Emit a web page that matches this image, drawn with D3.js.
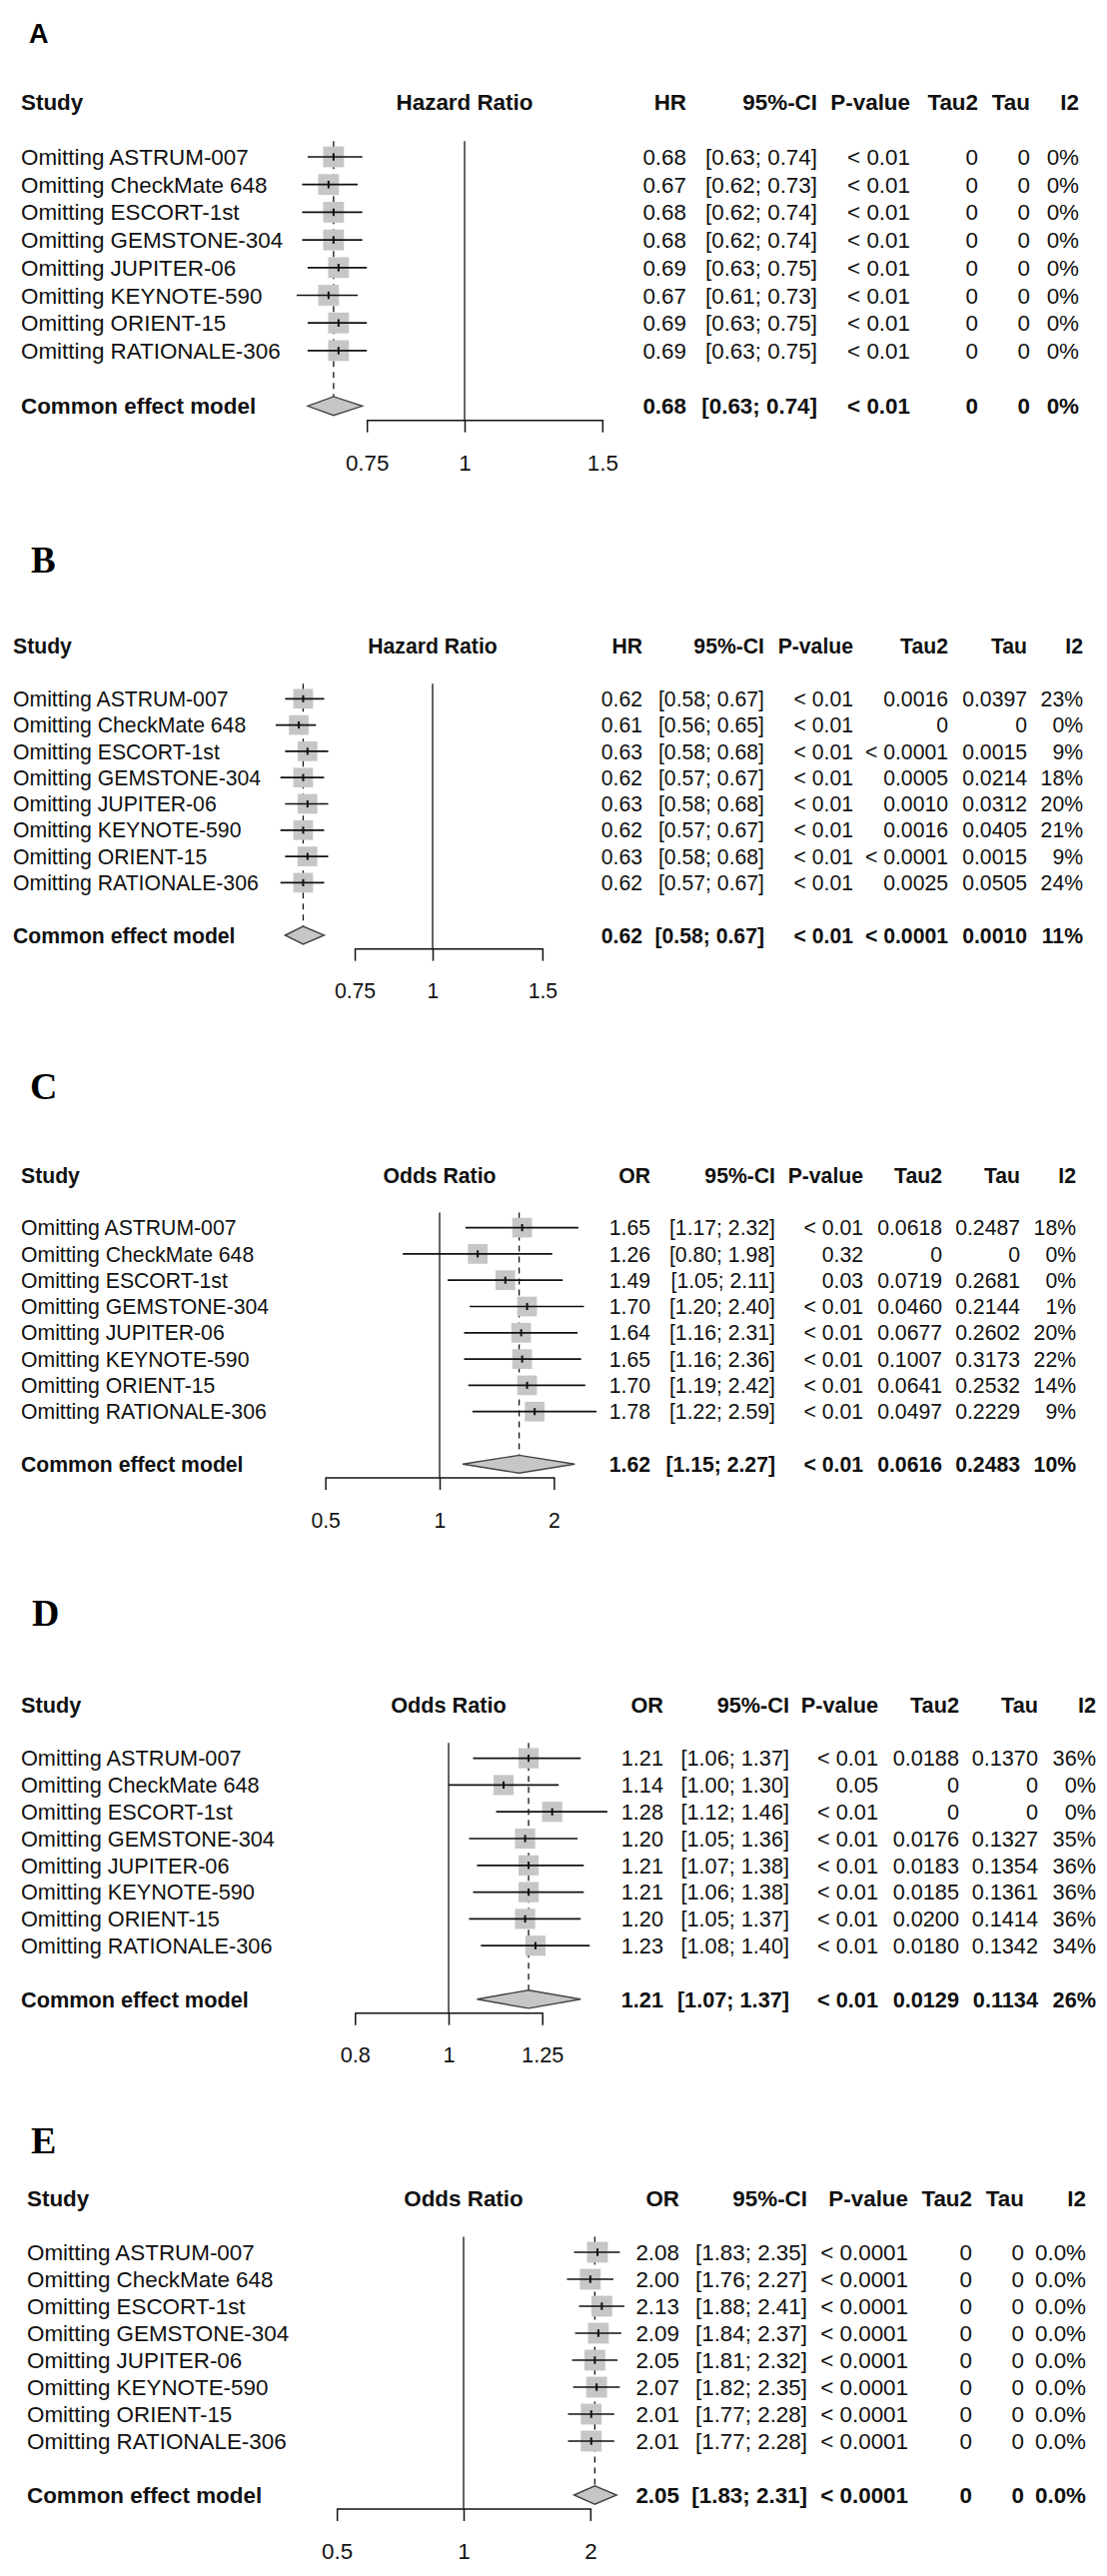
<html lang="en">

<head>
    <meta charset="utf-8">
    <title>Leave-one-out forest plots</title>
    <style>
        body {
            margin: 0;
            background: white;
        }

        svg {
            display: block;
        }

        text {
            font-family: "Liberation Sans", Arial, sans-serif;
            fill: #111;
        }
    </style>
</head>

<body>
    <script src="https://d3js.org/d3.v7.min.js"></script>

    <div id="chart"></div>

    <script type="text/javascript">
        // Studies (same order in every panel)
        var studies = ["Omitting ASTRUM-007", "Omitting CheckMate 648", "Omitting ESCORT-1st",
            "Omitting GEMSTONE-304", "Omitting JUPITER-06", "Omitting KEYNOTE-590",
            "Omitting ORIENT-15", "Omitting RATIONALE-306"];

        // A - hazard ratio
        var estA = [0.68, 0.67, 0.68, 0.68, 0.69, 0.67, 0.69, 0.69];
        var lowA = [0.63, 0.62, 0.62, 0.62, 0.63, 0.61, 0.63, 0.63];
        var upA = [0.74, 0.73, 0.74, 0.74, 0.75, 0.73, 0.75, 0.75];
        var pA = ["< 0.01", "< 0.01", "< 0.01", "< 0.01", "< 0.01", "< 0.01", "< 0.01", "< 0.01"];
        var tau2A = ["0", "0", "0", "0", "0", "0", "0", "0"];
        var tauA = ["0", "0", "0", "0", "0", "0", "0", "0"];
        var i2A = ["0%", "0%", "0%", "0%", "0%", "0%", "0%", "0%"];
        var commonA = [0.68, 0.63, 0.74];
        var commonStatsA = ["< 0.01", "0", "0", "0%"];
        var ticksA = [0.75, 1, 1.5];

        // B - hazard ratio
        var estB = [0.62, 0.61, 0.63, 0.62, 0.63, 0.62, 0.63, 0.62];
        var lowB = [0.58, 0.56, 0.58, 0.57, 0.58, 0.57, 0.58, 0.57];
        var upB = [0.67, 0.65, 0.68, 0.67, 0.68, 0.67, 0.68, 0.67];
        var pB = ["< 0.01", "< 0.01", "< 0.01", "< 0.01", "< 0.01", "< 0.01", "< 0.01", "< 0.01"];
        var tau2B = ["0.0016", "0", "< 0.0001", "0.0005", "0.0010", "0.0016", "< 0.0001", "0.0025"];
        var tauB = ["0.0397", "0", "0.0015", "0.0214", "0.0312", "0.0405", "0.0015", "0.0505"];
        var i2B = ["23%", "0%", "9%", "18%", "20%", "21%", "9%", "24%"];
        var commonB = [0.62, 0.58, 0.67];
        var commonStatsB = ["< 0.01", "< 0.0001", "0.0010", "11%"];
        var ticksB = [0.75, 1, 1.5];

        // C - odds ratio
        var estC = [1.65, 1.26, 1.49, 1.70, 1.64, 1.65, 1.70, 1.78];
        var lowC = [1.17, 0.80, 1.05, 1.20, 1.16, 1.16, 1.19, 1.22];
        var upC = [2.32, 1.98, 2.11, 2.40, 2.31, 2.36, 2.42, 2.59];
        var pC = ["< 0.01", "0.32", "0.03", "< 0.01", "< 0.01", "< 0.01", "< 0.01", "< 0.01"];
        var tau2C = ["0.0618", "0", "0.0719", "0.0460", "0.0677", "0.1007", "0.0641", "0.0497"];
        var tauC = ["0.2487", "0", "0.2681", "0.2144", "0.2602", "0.3173", "0.2532", "0.2229"];
        var i2C = ["18%", "0%", "0%", "1%", "20%", "22%", "14%", "9%"];
        var commonC = [1.62, 1.15, 2.27];
        var commonStatsC = ["< 0.01", "0.0616", "0.2483", "10%"];
        var ticksC = [0.5, 1, 2];

        // D - odds ratio
        var estD = [1.21, 1.14, 1.28, 1.20, 1.21, 1.21, 1.20, 1.23];
        var lowD = [1.06, 1.00, 1.12, 1.05, 1.07, 1.06, 1.05, 1.08];
        var upD = [1.37, 1.30, 1.46, 1.36, 1.38, 1.38, 1.37, 1.40];
        var pD = ["< 0.01", "0.05", "< 0.01", "< 0.01", "< 0.01", "< 0.01", "< 0.01", "< 0.01"];
        var tau2D = ["0.0188", "0", "0", "0.0176", "0.0183", "0.0185", "0.0200", "0.0180"];
        var tauD = ["0.1370", "0", "0", "0.1327", "0.1354", "0.1361", "0.1414", "0.1342"];
        var i2D = ["36%", "0%", "0%", "35%", "36%", "36%", "36%", "34%"];
        var commonD = [1.21, 1.07, 1.37];
        var commonStatsD = ["< 0.01", "0.0129", "0.1134", "26%"];
        var ticksD = [0.8, 1, 1.25];

        // E - odds ratio
        var estE = [2.08, 2.00, 2.13, 2.09, 2.05, 2.07, 2.01, 2.01];
        var lowE = [1.83, 1.76, 1.88, 1.84, 1.81, 1.82, 1.77, 1.77];
        var upE = [2.35, 2.27, 2.41, 2.37, 2.32, 2.35, 2.28, 2.28];
        var pE = ["< 0.0001", "< 0.0001", "< 0.0001", "< 0.0001", "< 0.0001", "< 0.0001", "< 0.0001", "< 0.0001"];
        var tau2E = ["0", "0", "0", "0", "0", "0", "0", "0"];
        var tauE = ["0", "0", "0", "0", "0", "0", "0", "0"];
        var i2E = ["0.0%", "0.0%", "0.0%", "0.0%", "0.0%", "0.0%", "0.0%", "0.0%"];
        var commonE = [2.05, 1.83, 2.31];
        var commonStatsE = ["< 0.0001", "0", "0", "0.0%"];
        var ticksE = [0.5, 1, 2];

        // layout of each panel (pixel positions)
        var layoutA = { label: "A", serif: false, labelX: 29, labelY: 43, labelSize: 27, head: 101.6, sp: 27.7, fs: 22.4, studyX: 21, xOne: 465, k: 340, cols: [687, 818, 911, 979, 1031, 1080] };
        var layoutB = { label: "B", serif: true, labelX: 31, labelY: 573, labelSize: 37, head: 646.7, sp: 26.3, fs: 21.2, studyX: 13, xOne: 433, k: 271, cols: [643, 765, 854, 949, 1028, 1084] };
        var layoutC = { label: "C", serif: true, labelX: 30, labelY: 1100, labelSize: 38, head: 1176, sp: 26.3, fs: 21.2, studyX: 21, xOne: 440, k: 165, cols: [651, 776, 864, 943, 1021, 1077] };
        var layoutD = { label: "D", serif: true, labelX: 32, labelY: 1627, labelSize: 38, head: 1706, sp: 26.8, fs: 21.7, studyX: 21, xOne: 449, k: 420, cols: [664, 790, 879, 960, 1039, 1097] };
        var layoutE = { label: "E", serif: true, labelX: 31, labelY: 2155, labelSize: 38, head: 2200, sp: 27.0, fs: 22.4, studyX: 27, xOne: 464, k: 183, cols: [680, 808, 909, 973, 1025, 1087] };

        var panels = [
            { sm: "HR", title: "Hazard Ratio", est: estA, low: lowA, up: upA, p: pA, tau2: tau2A, tau: tauA, i2: i2A, common: commonA, commonStats: commonStatsA, ticks: ticksA, L: layoutA },
            { sm: "HR", title: "Hazard Ratio", est: estB, low: lowB, up: upB, p: pB, tau2: tau2B, tau: tauB, i2: i2B, common: commonB, commonStats: commonStatsB, ticks: ticksB, L: layoutB },
            { sm: "OR", title: "Odds Ratio", est: estC, low: lowC, up: upC, p: pC, tau2: tau2C, tau: tauC, i2: i2C, common: commonC, commonStats: commonStatsC, ticks: ticksC, L: layoutC },
            { sm: "OR", title: "Odds Ratio", est: estD, low: lowD, up: upD, p: pD, tau2: tau2D, tau: tauD, i2: i2D, common: commonD, commonStats: commonStatsD, ticks: ticksD, L: layoutD },
            { sm: "OR", title: "Odds Ratio", est: estE, low: lowE, up: upE, p: pE, tau2: tau2E, tau: tauE, i2: i2E, common: commonE, commonStats: commonStatsE, ticks: ticksE, L: layoutE }
        ];

        var width = 1108;
        var height = 2578;
        var f2 = d3.format(".2f");

        var svg = d3.select("#chart").append("svg")
            .attr("width", width)
            .attr("height", height);

        svg.append("rect")
            .attr("width", width)
            .attr("height", height)
            .attr("fill", "white");

        panels.forEach(draw_panel);

        function ci_text(lo, hi) {
            return "[" + f2(lo) + "; " + f2(hi) + "]";
        }

        function draw_panel(p) {
            var L = p.L;
            var g = svg.append("g");
            var n = studies.length;
            var t0 = p.ticks[0];
            var t1 = p.ticks[p.ticks.length - 1];

            var x = d3.scaleLog()
                .domain([t0, t1])
                .range([L.xOne + L.k * Math.log(t0), L.xOne + L.k * Math.log(t1)]);

            var rowY = function(i) {
                return L.head + (i + 2) * L.sp;
            };
            var yCommon = rowY(n + 1);
            var base = 0.36 * L.fs;
            var sq = 0.93 * L.fs;
            var top = rowY(0) - 0.57 * L.sp;
            var axisY = yCommon + 0.5 * L.sp;
            var dh = 0.34 * L.sp;

            // panel letter
            g.append("text")
                .text(L.label)
                .attr("x", L.labelX)
                .attr("y", L.labelY)
                .style("font-family", L.serif ? "'Liberation Serif', 'Times New Roman', serif" : "'Liberation Sans', Arial, sans-serif")
                .style("font-weight", "bold")
                .style("font-size", L.labelSize + "px")
                .style("fill", "#000");

            // header
            var heads = [p.sm, "95%-CI", "P-value", "Tau2", "Tau", "I2"];
            g.append("text")
                .text("Study")
                .attr("x", L.studyX)
                .attr("y", L.head + base)
                .style("font-weight", "bold")
                .style("font-size", L.fs + "px");
            g.append("text")
                .text(p.title)
                .attr("x", L.xOne)
                .attr("y", L.head + base)
                .attr("text-anchor", "middle")
                .style("font-weight", "bold")
                .style("font-size", L.fs + "px");
            g.selectAll(".colhead")
                .data(heads)
                .enter()
                .append("text")
                .text(function(d) { return d; })
                .attr("x", function(d, i) { return L.cols[i]; })
                .attr("y", L.head + base)
                .attr("text-anchor", "end")
                .style("font-weight", "bold")
                .style("font-size", L.fs + "px");

            // study labels
            g.selectAll(".study")
                .data(studies)
                .enter()
                .append("text")
                .text(function(d) { return d; })
                .attr("x", L.studyX)
                .attr("y", function(d, i) { return rowY(i) + base; })
                .style("font-size", L.fs + "px");

            g.append("text")
                .text("Common effect model")
                .attr("x", L.studyX)
                .attr("y", yCommon + base)
                .style("font-weight", "bold")
                .style("font-size", L.fs + "px");

            // table columns
            var rows = studies.map(function(s, i) {
                return [f2(p.est[i]), ci_text(p.low[i], p.up[i]), p.p[i], p.tau2[i], p.tau[i], p.i2[i]];
            });
            rows.forEach(function(r, i) {
                g.selectAll(".cell" + i)
                    .data(r)
                    .enter()
                    .append("text")
                    .text(function(d) { return d; })
                    .attr("x", function(d, j) { return L.cols[j]; })
                    .attr("y", rowY(i) + base)
                    .attr("text-anchor", "end")
                    .style("font-size", L.fs + "px");
            });
            var crow = [f2(p.common[0]), ci_text(p.common[1], p.common[2])].concat(p.commonStats);
            g.selectAll(".ccell")
                .data(crow)
                .enter()
                .append("text")
                .text(function(d) { return d; })
                .attr("x", function(d, j) { return L.cols[j]; })
                .attr("y", yCommon + base)
                .attr("text-anchor", "end")
                .style("font-weight", "bold")
                .style("font-size", L.fs + "px");

            // line of no effect
            g.append("line")
                .attr("x1", x(1))
                .attr("x2", x(1))
                .attr("y1", top)
                .attr("y2", axisY)
                .attr("stroke", "#111")
                .attr("stroke-width", 1.3);

            // pooled estimate (dashed), drawn under the squares
            g.append("line")
                .attr("x1", x(p.common[0]))
                .attr("x2", x(p.common[0]))
                .attr("y1", top)
                .attr("y2", yCommon - dh)
                .attr("stroke", "#111")
                .attr("stroke-width", 1.3)
                .attr("stroke-dasharray", "6,5");

            // squares
            g.selectAll(".sq")
                .data(p.est)
                .enter()
                .append("rect")
                .attr("x", function(d) { return x(d) - sq / 2; })
                .attr("y", function(d, i) { return rowY(i) - sq / 2; })
                .attr("width", sq)
                .attr("height", sq)
                .attr("fill", "#c6c6c6");

            // confidence intervals
            g.selectAll(".ci")
                .data(p.est)
                .enter()
                .append("line")
                .attr("x1", function(d, i) { return x(p.low[i]); })
                .attr("x2", function(d, i) { return x(p.up[i]); })
                .attr("y1", function(d, i) { return rowY(i); })
                .attr("y2", function(d, i) { return rowY(i); })
                .attr("stroke", "#111")
                .attr("stroke-width", 1.7);

            g.selectAll(".mid")
                .data(p.est)
                .enter()
                .append("line")
                .attr("x1", function(d) { return x(d); })
                .attr("x2", function(d) { return x(d); })
                .attr("y1", function(d, i) { return rowY(i) - sq * 0.18; })
                .attr("y2", function(d, i) { return rowY(i) + sq * 0.18; })
                .attr("stroke", "#111")
                .attr("stroke-width", 2);

            // diamond
            var dm = [
                [x(p.common[1]), yCommon],
                [x(p.common[0]), yCommon - dh],
                [x(p.common[2]), yCommon],
                [x(p.common[0]), yCommon + dh]
            ];
            g.append("path")
                .attr("d", d3.line()(dm) + "Z")
                .attr("fill", "#c6c6c6")
                .attr("stroke", "#444")
                .attr("stroke-width", 1.4);

            // x axis
            var axis = d3.axisBottom(x)
                .tickValues(p.ticks)
                .tickFormat(function(d) { return String(d); })
                .tickSizeInner(12.5)
                .tickSizeOuter(0)
                .tickPadding(30 - 0.35 * L.fs);

            var ax = g.append("g")
                .attr("transform", "translate(0," + axisY + ")")
                .call(axis);
            ax.attr("font-family", null).attr("font-size", null);
            ax.select(".domain").attr("stroke", "#111").attr("stroke-width", 1.5);
            ax.selectAll(".tick line").attr("stroke", "#111").attr("stroke-width", 1.5);
            ax.selectAll(".tick text")
                .attr("fill", "#111")
                .style("font-size", L.fs + "px");
        }
    </script>
</body>

</html>
